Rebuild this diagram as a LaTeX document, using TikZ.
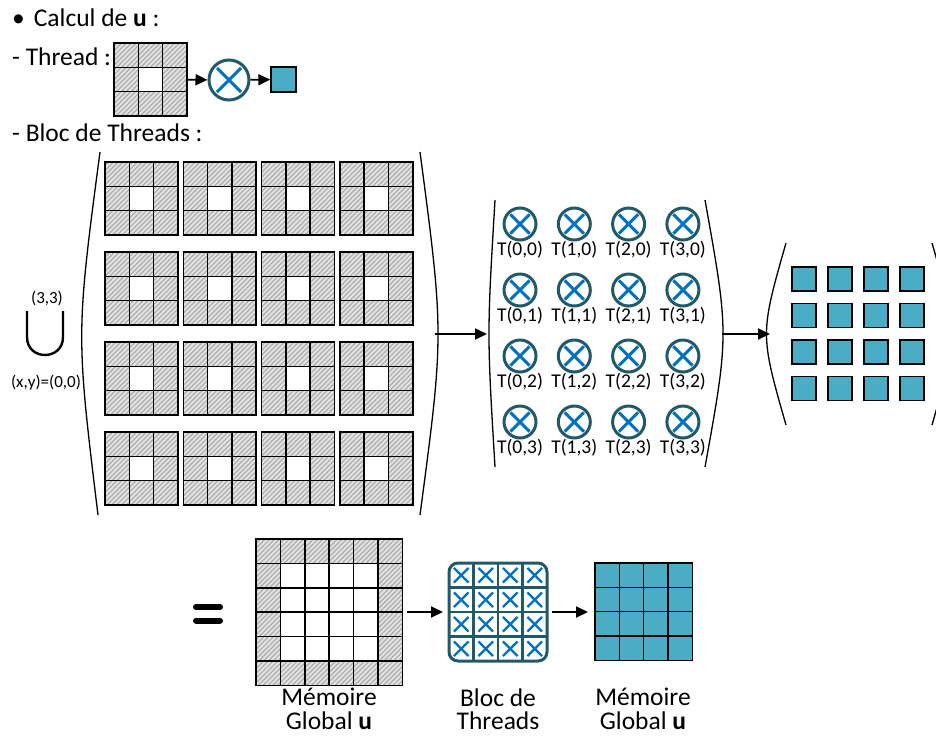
\documentclass[tikz,border=0pt]{standalone}
\usepackage{fontspec}
\setmainfont{Carlito}
\usepackage{tikz}
\usetikzlibrary{arrows.meta,positioning,patterns.meta,calc}
\definecolor{celeste}{RGB}{75,172,198}
\definecolor{ringteal}{RGB}{33,89,104}
\definecolor{crossblue}{RGB}{0,112,192}
\newcommand{\cellsz}{24.3}
\tikzset{
 hatchcell/.style={
 draw=black,
 line width=1.6pt,
 preaction={fill=gray!22},
 pattern={Lines[angle=45,distance=3.4pt,line width=1.2pt]},
 pattern color=gray!65
 },
 plaincell/.style={draw=black, line width=1.6pt, fill=white},
 outcell/.style={
 rectangle,
 draw=black,
 line width=1.4pt,
 fill=celeste,
 inner sep=0pt,
 minimum size=24.3pt
 },
 crossmark/.style={
 path picture={
 \draw[crossblue, line width=#1]
 ($(path picture bounding box.south west)!0.2!(path picture bounding box.north east)$) -- ($(path picture bounding box.south west)!0.8!(path picture bounding box.north east)$)
 ($(path picture bounding box.north west)!0.2!(path picture bounding box.south east)$) -- ($(path picture bounding box.north west)!0.8!(path picture bounding box.south east)$);
 }
 },
 multnode/.style={
 circle,
 draw=ringteal,
 line width=3pt,
 fill=white,
 inner sep=0pt,
 minimum size=32pt,
 crossmark=3pt
 },
 xcell/.style={
 rectangle,
 draw=ringteal,
 line width=2.4pt,
 inner sep=0pt,
 minimum size=24.5pt,
 crossmark=2.4pt
 },
 headtext/.style={anchor=west, inner sep=0pt, font=\fontsize{25.5}{25.5}\selectfont},
 capnode/.style={align=center, inner sep=0pt, font=\fontsize{25.5}{23.5}\selectfont},
 tlabel/.style={inner sep=0pt, font=\fontsize{19.5}{19.5}\selectfont},
 unionlabel/.style={inner sep=0pt, font=\fontsize{17}{17}\selectfont},
 unionline/.style={line width=2.4pt},
 eqbar/.style={line width=6pt, line cap=round},
 paren/.style={line width=1.3pt},
 groupbox/.style={inner sep=0pt, outer sep=0pt},
 flowarrow/.style={-{Triangle[length=12pt,width=11pt]}, line width=1.8pt},
 stencil/.pic={
 \foreach \c in {0,1,2}
 \foreach \r in {0,1,2}
 \draw[hatchcell] (\c*\cellsz,\r*\cellsz) rectangle ++(\cellsz,\cellsz);
 \draw[plaincell] (\cellsz,\cellsz) rectangle ++(\cellsz,\cellsz);
 \node[groupbox, minimum size=72.9pt] (-box) at (1.5*\cellsz,1.5*\cellsz) {};
 }
}

\begin{document}
\begin{tikzpicture}[x=1pt,y=-1pt]
	\clip (0,0) rectangle (936,737);

	\node[headtext] (calc) at (12,18) {•\hspace{9pt}Calcul de \textbf{u} :};
	\node[headtext] (thr) at (12,57) {- Thread :};
	\pic (thread) at (114,43) {stencil};
	\node[multnode, minimum size=40pt] (mult) at (229,80) {};
	\node[outcell, minimum size=25pt] (out) at (283.5,79.5) {};
	\draw[flowarrow] (thread-box) -- (mult);
	\draw[flowarrow] (mult) -- (out);

	\node[headtext] (blochead) at (12,133) {- Bloc de Threads :};

	\node[unionlabel] (top) at (47,298) {(3,3)};
	\draw[unionline] (27,311) -- (27,337) .. controls (27,361) and (63,361) .. (63,337) -- (63,311);
	\node[unionlabel] (low) at (46,383) {(x,y)=(0,0)};

	\foreach \i in {0,...,3}
		\foreach \j in {0,...,3}
			\pic (b\i\j) at (105+78.3*\i,162+90*\j) {stencil};
	\node[groupbox, minimum width=344pt, minimum height=363pt] (blocs) at (260,334) {};
	\draw[paren] (100,152) .. controls (76,334) .. (98,515);
	\draw[paren] (420,152) .. controls (444,334) .. (420,515);

	\foreach \i in {0,...,3}
		\foreach \j in {0,...,3}
			\node[multnode, label distance=1.5pt, label={[tlabel]below:T(\i,\j)}] (t\i\j) at (520+54.3*\i,224+66*\j) {};
	\node[groupbox, minimum width=226pt, minimum height=267pt] (threads) at (604,334) {};
	\draw[paren] (495,200) .. controls (487,334) .. (495,467);
	\draw[paren] (705,200) .. controls (729,334) .. (705,467);

	\foreach \i in {0,...,3}
		\foreach \j in {0,...,3}
			\node[outcell, minimum size=24pt] (r\i\j) at (804+36*\i,279+36.4*\j) {};
	\node[groupbox, minimum width=172pt, minimum height=182pt] (results) at (859,334) {};
	\draw[paren] (786,243) .. controls (760,334) .. (786,425);
	\draw[paren] (932,243) .. controls (958,334) .. (932,425);

	\draw[flowarrow, shorten <=3pt, shorten >=4pt] (blocs) -- (threads);
	\draw[flowarrow, shorten <=5pt, shorten >=3pt] (threads) -- (results);

	\draw[eqbar] (196,607) -- (220,607);
	\draw[eqbar] (196,620.5) -- (220,620.5);

	\foreach \i in {0,...,5}
		\foreach \j in {0,...,5}
			\draw[hatchcell] (256+24.4*\i,539+24.4*\j) rectangle ++(24.4,24.4);
	\foreach \i in {1,...,4}
		\foreach \j in {1,...,4}
			\draw[plaincell] (256+24.4*\i,539+24.4*\j) rectangle ++(24.4,24.4);
	\node[groupbox, minimum size=146.4pt] (memin) at (329.2,612) {};
	\node[capnode] (memincap) at (329,709) {Mémoire\\Global \textbf{u}};

	\begin{scope}
		\clip[rounded corners=9pt] (449,563) rectangle (547,661);
		\foreach \i in {0,...,3}
			\foreach \j in {0,...,3}
				\node[xcell] (x\i\j) at (461.25+24.5*\i,575.25+24.5*\j) {};
	\end{scope}
	\draw[ringteal, line width=3pt, rounded corners=9pt] (449,563) rectangle (547,661);
	\node[groupbox, minimum size=98pt] (blocbox) at (498,612) {};
	\node[capnode] (bloccap) at (498,709) {Bloc de\\Threads};

	\foreach \i in {0,...,3}
		\foreach \j in {0,...,3}
			\node[outcell] (m\i\j) at (607.15+24.3*\i,575.15+24.3*\j) {};
	\node[groupbox, minimum size=97.2pt] (memout) at (643.6,612) {};
	\node[capnode] (memoutcap) at (643,709) {Mémoire\\Global \textbf{u}};

	\draw[flowarrow, shorten <=5pt, shorten >=6pt] (memin) -- (blocbox);
	\draw[flowarrow, shorten <=5pt, shorten >=7pt] (blocbox) -- (memout);
\end{tikzpicture}
\end{document}
